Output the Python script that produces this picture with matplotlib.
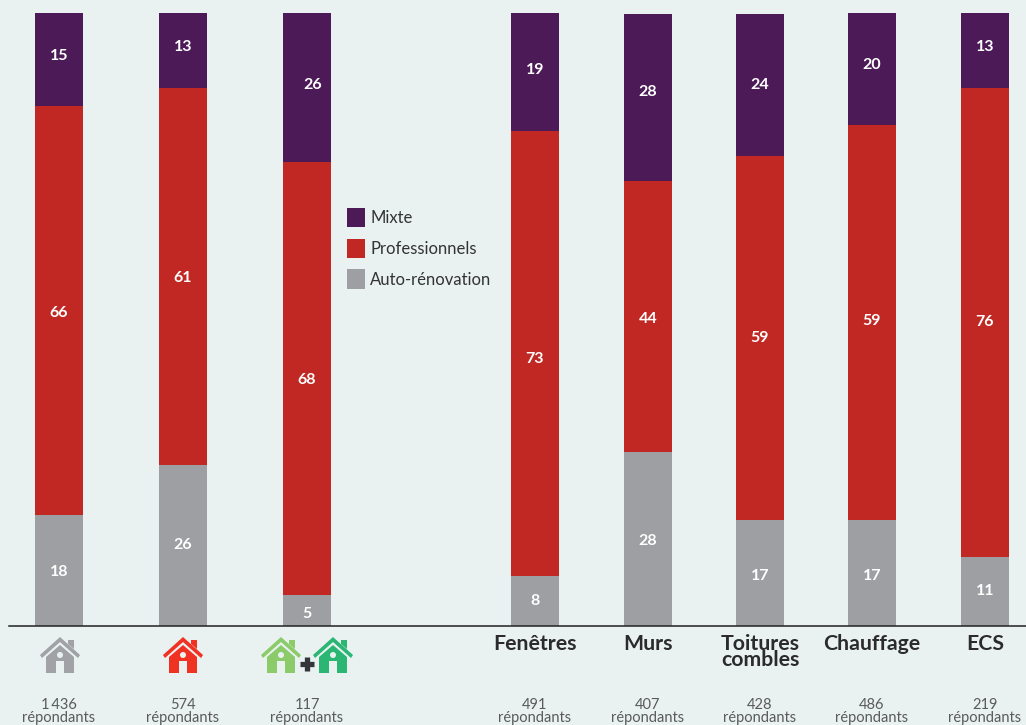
import matplotlib
matplotlib.use("Agg")
import matplotlib.pyplot as plt
from matplotlib.patches import Circle, Polygon, Rectangle

plt.rcParams['font.family'] = ['Lato', 'DejaVu Sans']

# bar heights as drawn (the printed labels don't always match them)
auto_h = [18.0, 26.2, 5.0, 8.1, 28.3, 17.2, 17.2, 11.2]
pro_h = [66.8, 61.6, 70.7, 72.7, 44.2, 59.4, 64.5, 76.6]
mixte_h = [15.2, 12.2, 24.3, 19.2, 27.3, 23.3, 18.3, 12.2]

auto_lab = [18, 26, 5, 8, 28, 17, 17, 11]
pro_lab = [66, 61, 68, 73, 44, 59, 59, 76]
mixte_lab = [15, 13, 26, 19, 28, 24, 20, 13]

counts = ['1\u2009436', '574', '117', '491', '407', '428', '486', '219']
categories = ['Fenêtres', 'Murs', 'Toitures\ncombles', 'Chauffage', 'ECS']

BG = '#E9F2F1'
PURPLE = '#4B1A57'
RED = '#C22823'
GREY = '#9D9FA2'
DARK = '#2B2B2D'

xpos = [59, 183, 307, 535, 648, 760, 872, 985]
bar_w = 48
px_per_unit = 6.125
base_y = 625.5

# label nudges in pixels, downwards
auto_dy = [2, 0, 4, 0, 2, 3, 3, 0]
pro_dy = [2, 2, 2, 6, 2, 0, -2, 0]
mixte_dy = [1, 1, 2, 2, -2, 4, 0, 1]


def house(ov, cx, color):
    # roof chevron
    ov.add_patch(Polygon([(cx - 20, 655), (cx, 637), (cx + 20, 655), (cx + 18, 658),
                          (cx, 642), (cx - 18, 658)], closed=True, fc=color, ec='none'))
    # chimney
    ov.add_patch(Polygon([(cx + 8, 640), (cx + 14, 640), (cx + 14, 649), (cx + 8, 644)],
                         closed=True, fc=color, ec='none'))
    # body
    ov.add_patch(Polygon([(cx, 645), (cx + 14, 657), (cx + 14, 673), (cx - 14, 673), (cx - 14, 657)],
                         closed=True, fc=color, ec='none'))
    ov.add_patch(Rectangle((cx - 4, 661), 8, 12, fc=BG, ec='none'))
    ov.add_patch(Circle((cx, 655), 3, fc=BG, ec='none'))


fig = plt.figure(figsize=(10.26, 7.25), dpi=100, facecolor=BG)
ax = fig.add_axes([0, 0, 1, 1])
ax.set_facecolor(BG)
ax.set_xlim(0, 1026)
ax.set_ylim(-(725 - base_y) / px_per_unit, (base_y) / px_per_unit)
ax.axis('off')

bottom2 = [a + p for a, p in zip(auto_h, pro_h)]
b1 = ax.bar(xpos, auto_h, width=bar_w, color=GREY, label='Auto-rénovation')
b2 = ax.bar(xpos, pro_h, width=bar_w, bottom=auto_h, color=RED, label='Professionnels')
b3 = ax.bar(xpos, mixte_h, width=bar_w, bottom=bottom2, color=PURPLE, label='Mixte')

for i, x in enumerate(xpos):
    ax.text(x, auto_h[i] / 2 - auto_dy[i] / px_per_unit, str(auto_lab[i]), color='white', fontsize=11.5,
            fontweight='bold', ha='center', va='center')
    ax.text(x, auto_h[i] + pro_h[i] / 2 - pro_dy[i] / px_per_unit, str(pro_lab[i]), color='white', fontsize=11.5,
            fontweight='bold', ha='center', va='center')
    # top labels sit a bit above centre in the original
    dx = 6 if i == 2 else 0
    ax.text(x + dx, bottom2[i] + mixte_h[i] / 2 + 0.7 - mixte_dy[i] / px_per_unit, str(mixte_lab[i]), color='white',
            fontsize=11.5, fontweight='bold', ha='center', va='center')

ax.legend(handles=[b3, b2, b1], loc='upper left', bbox_to_anchor=(340 / 1026, 1 - 201 / 725),
          frameon=False, fontsize=12, labelcolor='#333333', handlelength=1.1, handleheight=1.4,
          handletextpad=0.3, labelspacing=0.7, borderpad=0.4, borderaxespad=0)

# overlay in pixel coordinates for the baseline, icons and captions
ov = fig.add_axes([0, 0, 1, 1], facecolor='none')
ov.set_xlim(0, 1026)
ov.set_ylim(725, 0)
ov.axis('off')

ov.plot([9, 1026], [base_y, base_y], color='#222222', lw=1.1)

house(ov, 60, '#A0A2A5')
house(ov, 183, '#F03223')
house(ov, 281, '#8CCB69')
house(ov, 333, '#2BB673')
ov.plot([307, 307], [657, 671], color='#333538', lw=3.8, solid_capstyle='butt')
ov.plot([300, 314], [664, 664], color='#333538', lw=3.8, solid_capstyle='butt')

for x, c in zip(xpos, counts):
    ov.text(x, 705, c, color='#5A5A5A', fontsize=10.5, ha='center', va='center')
    ov.text(x, 718, 'répondants', color='#5A5A5A', fontsize=10.5, ha='center', va='center')

for x, name in zip(xpos[3:], categories):
    ov.text(x, 634, name, color=DARK, fontsize=15.3, fontweight='bold', ha='center', va='top',
            linespacing=0.76)

fig.savefig('out.png', dpi=100, facecolor=BG)
